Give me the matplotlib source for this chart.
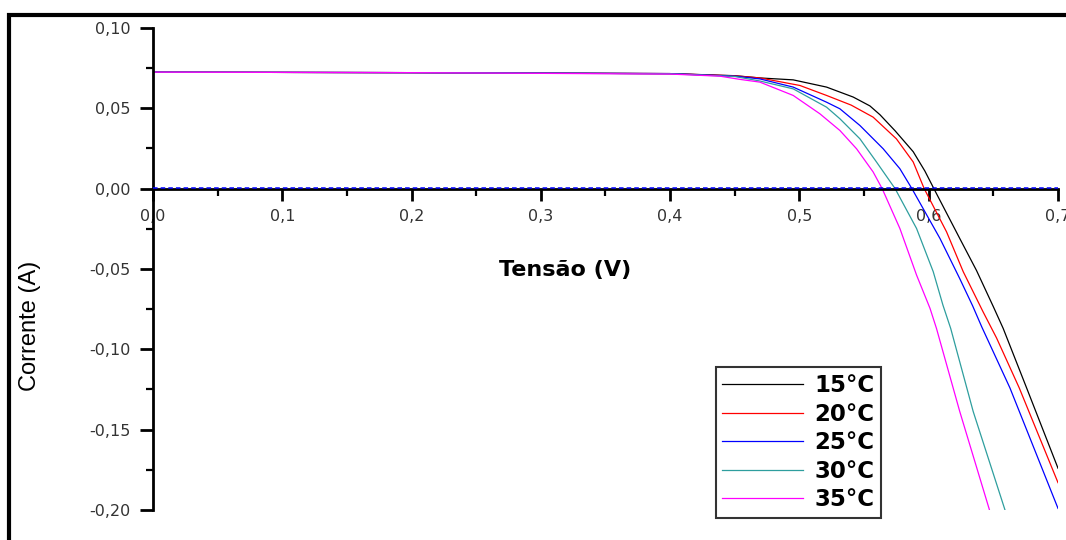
import numpy as np
import matplotlib
matplotlib.use('Agg')
import matplotlib.pyplot as plt
import matplotlib.transforms as mtransforms
from matplotlib.patches import Rectangle
from matplotlib.ticker import MultipleLocator, FuncFormatter

plt.rcParams['font.family'] = ['Liberation Sans', 'DejaVu Sans']

# curvas I-V (tensão em V, corrente em A)
v_15 = [0.0, 0.2, 0.4, 0.45, 0.4694, 0.4952, 0.521, 0.5416, 0.5545, 0.5623, 0.574, 0.588,
        0.597, 0.604, 0.624, 0.637, 0.650, 0.6576, 0.6757, 0.70]
i_15 = [0.0725, 0.0722, 0.0716, 0.0703, 0.0689, 0.0677, 0.0632, 0.057, 0.0515, 0.046, 0.036, 0.023,
        0.011, 0.0, -0.031, -0.051, -0.0735, -0.087, -0.124, -0.174]

v_20 = [0.0, 0.2, 0.4, 0.45, 0.4694, 0.5004, 0.521, 0.540, 0.557, 0.575, 0.588, 0.5965,
        0.6138, 0.6267, 0.642, 0.6525, 0.670, 0.70]
i_20 = [0.0725, 0.0722, 0.0716, 0.0702, 0.0689, 0.0642, 0.058, 0.052, 0.0445, 0.031, 0.0166, 0.0,
        -0.0269, -0.0517, -0.0766, -0.093, -0.124, -0.183]

v_25 = [0.0, 0.2, 0.4, 0.45, 0.4694, 0.4952, 0.521, 0.5313, 0.5468, 0.5648, 0.5777, 0.587,
        0.6087, 0.624, 0.634, 0.641, 0.6628, 0.70]
i_25 = [0.0725, 0.0722, 0.0716, 0.0700, 0.0683, 0.0632, 0.0538, 0.0497, 0.0393, 0.0248, 0.0124, 0.0,
        -0.031, -0.056, -0.073, -0.086, -0.124, -0.199]

v_30 = [0.0, 0.2, 0.4, 0.45, 0.4694, 0.4952, 0.521, 0.5313, 0.5468, 0.5596, 0.574,
        0.5906, 0.6035, 0.611, 0.617, 0.6344, 0.659]
i_30 = [0.0725, 0.0722, 0.0715, 0.0698, 0.067, 0.0621, 0.0507, 0.0435, 0.031, 0.0166, 0.0,
        -0.0248, -0.0517, -0.0725, -0.087, -0.1387, -0.200]

v_35 = [0.0, 0.2, 0.4, 0.4385, 0.454, 0.4694, 0.4952, 0.5158, 0.5313, 0.5442, 0.557, 0.564,
        0.5777, 0.5906, 0.601, 0.606, 0.624, 0.647]
i_35 = [0.0725, 0.0722, 0.0713, 0.070, 0.068, 0.0663, 0.058, 0.0466, 0.0362, 0.0248, 0.0104, 0.0,
        -0.0248, -0.0538, -0.0745, -0.087, -0.1387, -0.200]

rotulos = ['15°C', '20°C', '25°C', '30°C', '35°C']
cores = ['black', '#ff0000', '#0000ff', '#2e9e9e', '#ff00ff']
curvas = [(v_15, i_15), (v_20, i_20), (v_25, i_25), (v_30, i_30), (v_35, i_35)]

fig = plt.figure(figsize=(10.66, 5.40), dpi=100)
ax = fig.add_axes([0.1435, 0.0556, 0.849, 0.8926])

for (v, i), cor, rot in zip(curvas, cores, rotulos):
    ax.plot(v, i, color=cor, lw=0.9, label=rot)

# linha tracejada azul sobre o eixo zero (um pouco acima)
desloc = mtransforms.offset_copy(ax.transData, fig=fig, x=0, y=0.6, units='points')
ax.plot([0, 0.7], [0, 0], color='#0000ff', lw=1.1, ls=(0, (3, 2)), zorder=4,
        transform=desloc, clip_on=False)

ax.set_xlim(0, 0.7)
ax.set_ylim(-0.2, 0.1)

ax.spines['top'].set_visible(False)
ax.spines['right'].set_visible(False)
ax.spines['bottom'].set_position(('data', 0))
ax.spines['left'].set_linewidth(2)
ax.spines['bottom'].set_linewidth(2)

ax.xaxis.set_major_locator(MultipleLocator(0.1))
ax.xaxis.set_minor_locator(MultipleLocator(0.05))
ax.yaxis.set_major_locator(MultipleLocator(0.05))
ax.yaxis.set_minor_locator(MultipleLocator(0.025))
ax.xaxis.set_major_formatter(FuncFormatter(lambda x, p: ('%.1f' % x).replace('.', ',')))
ax.yaxis.set_major_formatter(FuncFormatter(lambda y, p: ('%.2f' % y).replace('.', ',')))

ax.tick_params(axis='x', which='major', direction='out', length=8.6, width=2, pad=6,
               labelsize=11.5, labelcolor='#333333')
ax.tick_params(axis='x', which='minor', direction='out', length=5, width=1.6)
ax.tick_params(axis='y', which='major', direction='out', length=9.4, width=2, pad=7,
               labelsize=11.5, labelcolor='#333333')
ax.tick_params(axis='y', which='minor', direction='out', length=5, width=1.6)
for lab in ax.get_xticklabels() + ax.get_yticklabels():
    lab.set_family('DejaVu Sans')

ax.set_xlabel('Tensão (V)', fontsize=16, fontweight='bold', family='DejaVu Sans')
ax.xaxis.label.set_va('center')
ax.xaxis.set_label_coords(0.455, 0.498)
ax.set_ylabel('Corrente (A)', fontsize=17)
ax.yaxis.label.set_va('center')
ax.yaxis.set_label_coords(-0.136, 0.382)

leg = ax.legend(loc='lower right', bbox_to_anchor=(0.8265, 0.0407),
                bbox_transform=fig.transFigure,
                prop={'family': 'DejaVu Sans', 'weight': 'bold', 'size': 16.5},
                fancybox=False, framealpha=1, edgecolor='#333333', handlelength=3.5,
                handletextpad=0.5, labelspacing=0.24, borderpad=0.3,
                borderaxespad=0)
leg.get_frame().set_linewidth(1.5)

# moldura preta cortada (canto superior esquerdo)
fig.add_artist(Rectangle((0.0089, -0.2), 1.5, 0.9731 + 0.2, transform=fig.transFigure,
                         fill=False, lw=3, edgecolor='black', clip_on=False))

fig.savefig('out.png', dpi=100)
